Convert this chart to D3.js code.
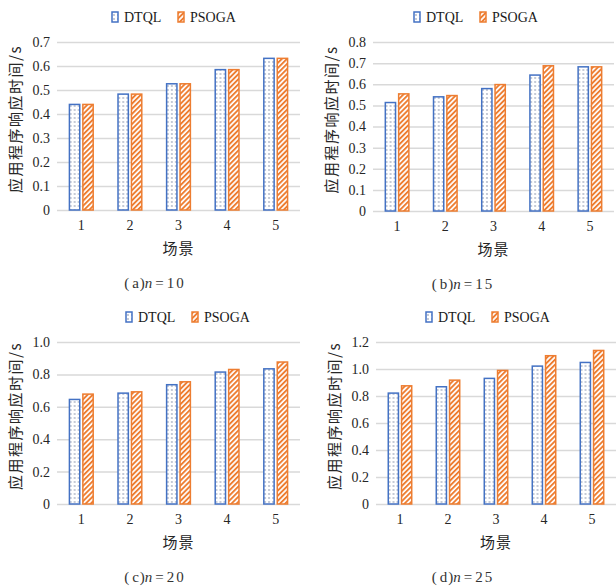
<!DOCTYPE html>
<html>
<head>
<meta charset="utf-8">
<script src="https://cdn.jsdelivr.net/npm/d3@7"></script>
<style>
  body { margin: 0; background: #fff; }
  svg { display: block; }
  .serif { font-family: "Liberation Serif", serif; }
  .cjk { font-family: "Noto Sans CJK SC", sans-serif; }
</style>
</head>
<body>
<div id="graphic"></div>
<script>
// data
const categories = ["1", "2", "3", "4", "5"];
const seriesNames = ["DTQL", "PSOGA"];

const dtqlA = [0.443, 0.486, 0.529, 0.588, 0.635];
const psogaA = [0.443, 0.486, 0.529, 0.588, 0.635];
const dtqlB = [0.517, 0.544, 0.583, 0.647, 0.686];
const psogaB = [0.558, 0.550, 0.602, 0.691, 0.686];
const dtqlC = [0.650, 0.689, 0.741, 0.819, 0.839];
const psogaC = [0.683, 0.697, 0.759, 0.835, 0.881];
const dtqlD = [0.827, 0.874, 0.936, 1.027, 1.054];
const psogaD = [0.881, 0.923, 0.995, 1.104, 1.143];

const ticksA = [0, 0.1, 0.2, 0.3, 0.4, 0.5, 0.6, 0.7];
const ticksB = [0, 0.1, 0.2, 0.3, 0.4, 0.5, 0.6, 0.7, 0.8];
const ticksC = [0, 0.2, 0.4, 0.6, 0.8, 1.0];
const ticksD = [0, 0.2, 0.4, 0.6, 0.8, 1.0, 1.2];

const panelLetters = ["a", "b", "c", "d"];
const nValues = [10, 15, 20, 25];
const yTitle = "应用程序响应时间/s";
const xTitle = "场景";

const blue = "#4472C4";
const orange = "#ED7D31";
const grid = "#d9d9d9";

// page
const svg = d3.select("#graphic")
    .append("svg")
    .attr("width", 616)
    .attr("height", 587);

// fill patterns
const defs = svg.append("defs");
const dots = defs.append("pattern")
    .attr("id", "dots")
    .attr("patternUnits", "userSpaceOnUse")
    .attr("width", 4).attr("height", 4);
dots.append("rect").attr("width", 4).attr("height", 4).attr("fill", "#fff");
dots.append("circle").attr("cx", 2).attr("cy", 2).attr("r", 0.65).attr("fill", "#5a6a8c");

const stripes = defs.append("pattern")
    .attr("id", "stripes")
    .attr("patternUnits", "userSpaceOnUse")
    .attr("width", 3.6).attr("height", 3.6)
    .attr("patternTransform", "rotate(45)");
stripes.append("rect").attr("width", 3.6).attr("height", 3.6).attr("fill", "#fff");
stripes.append("rect").attr("width", 1.9).attr("height", 3.6).attr("fill", orange);

const fills = {DTQL: "url(#dots)", PSOGA: "url(#stripes)"};
const strokes = {DTQL: blue, PSOGA: orange};

// panel layout
const panels = [
    {dtql: dtqlA, psoga: psogaA, ticks: ticksA, x0: 57, x1: 300, yTop: 42, y0: 210, legendX: 112, ox: 0},
    {dtql: dtqlB, psoga: psogaB, ticks: ticksB, x0: 373, x1: 614, yTop: 42, y0: 211, legendX: 414, ox: 308},
    {dtql: dtqlC, psoga: psogaC, ticks: ticksC, x0: 57, x1: 300, yTop: 342, y0: 504, legendX: 126, ox: 0},
    {dtql: dtqlD, psoga: psogaD, ticks: ticksD, x0: 376, x1: 616, yTop: 342, y0: 504, legendX: 426, ox: 308}
];

const tickFmt = d => d === 0 ? "0" : d3.format(".1f")(d);

panels.forEach(function(p, i) {
    const g = svg.append("g");

    const x = d3.scaleBand()
        .domain(categories)
        .range([p.x0, p.x1])
        .paddingInner(0.48)
        .paddingOuter(0.24);
    const xs = d3.scaleBand()
        .domain(seriesNames)
        .range([0, x.bandwidth()])
        .paddingInner(0.12);
    const y = d3.scaleLinear()
        .domain([0, d3.max(p.ticks)])
        .range([p.y0, p.yTop]);

    // gridlines + y labels
    const yAxis = g.append("g")
        .attr("transform", `translate(${p.x0},0)`)
        .call(d3.axisLeft(y).tickValues(p.ticks).tickFormat(tickFmt)
            .tickSize(-(p.x1 - p.x0)).tickPadding(7))
        .attr("font-family", null)
        .attr("font-size", 14);
    yAxis.select(".domain").remove();
    yAxis.selectAll(".tick line").attr("stroke", grid).attr("stroke-width", 1.5);
    yAxis.selectAll(".tick text").attr("class", "serif").attr("fill", "#262626");

    // bars
    const rows = categories.map((c, k) => ({cat: c, DTQL: p.dtql[k], PSOGA: p.psoga[k]}));
    g.append("g")
        .selectAll("g")
        .data(rows)
        .join("g")
        .attr("transform", d => `translate(${x(d.cat)},0)`)
        .selectAll("rect")
        .data(d => seriesNames.map(s => ({s: s, v: d[s]})))
        .join("rect")
        .attr("x", d => xs(d.s) + 0.75)
        .attr("width", xs.bandwidth() - 1.5)
        .attr("y", d => y(d.v) + 0.75)
        .attr("height", d => y(0) - y(d.v) - 0.75)
        .attr("fill", d => fills[d.s])
        .attr("stroke", d => strokes[d.s])
        .attr("stroke-width", 1.5);

    // x labels
    const xAxis = g.append("g")
        .attr("transform", `translate(0,${p.y0})`)
        .call(d3.axisBottom(x).tickSize(0).tickPadding(10))
        .attr("font-family", null)
        .attr("font-size", 14);
    xAxis.select(".domain").remove();
    xAxis.selectAll(".tick text").attr("class", "serif").attr("fill", "#262626");

    // axis titles
    g.append("text")
        .attr("class", "cjk")
        .attr("x", (p.x0 + p.x1) / 2)
        .attr("y", p.y0 + 37)
        .attr("text-anchor", "middle")
        .attr("dominant-baseline", "central")
        .attr("font-size", 15)
        .attr("letter-spacing", 1)
        .attr("fill", "#262626")
        .text(xTitle);

    g.append("text")
        .attr("class", "cjk")
        .attr("transform", `translate(${p.x0 - 43},${(p.y0 + p.yTop) / 2 - 7}) rotate(-90)`)
        .attr("text-anchor", "middle")
        .attr("dominant-baseline", "central")
        .attr("font-size", 15)
        .attr("letter-spacing", 1.5)
        .attr("fill", "#262626")
        .text(yTitle);

    // legend
    const lg = g.append("g").attr("transform", `translate(${p.legendX},${p.yTop - 25})`);
    seriesNames.forEach(function(s, k) {
        const lx = k * 66;
        lg.append("rect")
            .attr("x", lx).attr("y", -5)
            .attr("width", 6).attr("height", 10)
            .attr("fill", fills[s])
            .attr("stroke", strokes[s])
            .attr("stroke-width", 1.5);
        lg.append("text")
            .attr("class", "serif")
            .attr("x", lx + 12).attr("y", 0)
            .attr("dominant-baseline", "central")
            .attr("font-size", 14)
            .attr("fill", "#1a1a1a")
            .text(s);
    });

    // caption
    const cap = g.append("text")
        .attr("class", "serif")
        .attr("x", p.ox + 155)
        .attr("y", p.y0 + 73)
        .attr("text-anchor", "middle")
        .attr("dominant-baseline", "central")
        .attr("font-size", 15)
        .attr("fill", "#333");
    cap.append("tspan").text("(");
    cap.append("tspan").attr("dx", 3).text(panelLetters[i]);
    cap.append("tspan").attr("dx", 1).text(")");
    cap.append("tspan").attr("font-style", "italic").text("n");
    cap.append("tspan").attr("dx", 3).text("=");
    cap.append("tspan").attr("dx", 3).attr("letter-spacing", 2).text(nValues[i]);
});
</script>
</body>
</html>
